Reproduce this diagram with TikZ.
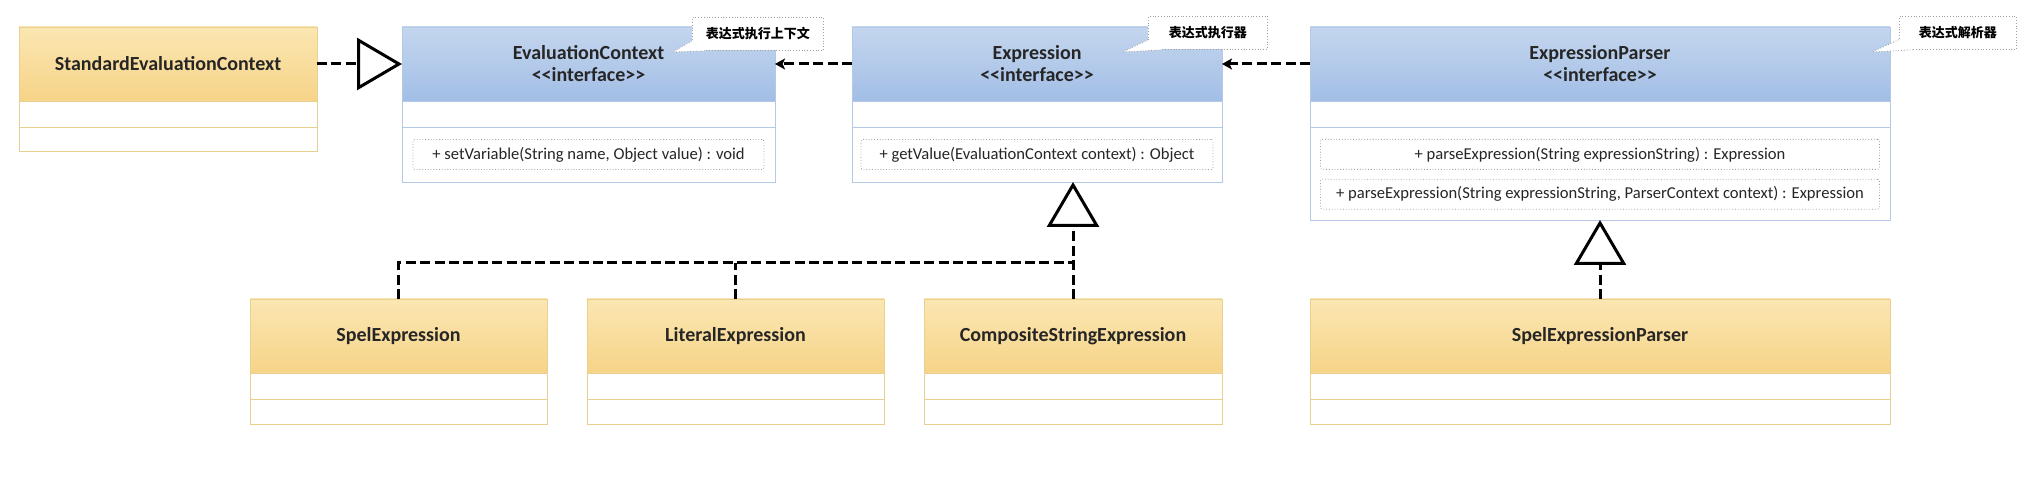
\documentclass[tikz,border=0pt]{standalone}
\usepackage{fontspec}
\setmainfont{Carlito}
\newfontfamily\cjk{Noto Sans CJK SC}
\usetikzlibrary{positioning,arrows.meta}

\definecolor{ifaceline}{HTML}{B4C9E6}
\definecolor{ifacetop}{HTML}{C4D6EE}
\definecolor{ifacebot}{HTML}{A2BEE6}
\definecolor{classline}{HTML}{E8D08E}
\definecolor{classtop}{HTML}{FBE6B2}
\definecolor{classbot}{HTML}{F6D488}

\tikzstyle{ifacehead} = [draw=ifaceline, top color=ifacetop, bottom color=ifacebot,
    rectangle, minimum height=37pt, inner sep=0pt, outer sep=0pt, align=center,
    font=\fontsize{10}{11}\selectfont\bfseries, text=black!85, anchor=north west]
\tikzstyle{classhead} = [draw=classline, top color=classtop, bottom color=classbot,
    rectangle, minimum height=37pt, inner sep=0pt, outer sep=0pt,
    font=\fontsize{10}{11}\selectfont\bfseries, text=black!85, anchor=north west]
\tikzstyle{ifacepart} = [draw=ifaceline, fill=white, rectangle, inner sep=0pt, outer sep=0pt]
\tikzstyle{classpart} = [draw=classline, fill=white, rectangle, inner sep=0pt, outer sep=0pt]
\tikzstyle{methodbox} = [draw=gray!75, densely dotted, rounded corners=1pt, fill=white,
    minimum height=15pt, inner sep=0pt, font=\fontsize{8.3}{9}\selectfont, text=black!85]
\tikzstyle{notebox} = [draw=gray!75, densely dotted, fill=white, minimum height=16.5pt,
    inner sep=0pt, anchor=north west, font=\cjk\fontsize{6.5}{8}\selectfont\bfseries]
\tikzstyle{notetail} = [draw=gray!75, densely dotted]
\tikzstyle{implline} = [black, line width=1.5pt, dash pattern=on 5pt off 2.2pt]
\tikzstyle{realize} = [implline, -{Triangle[open, length=22.5pt, width=26pt, line width=1.5pt]}]
\tikzstyle{usage} = [implline, -{Stealth[length=5pt, width=5.5pt, inset=1.2pt]}]

\begin{document}
\begin{tikzpicture}[x=0.5pt, y=-0.5pt]
    \useasboundingbox (0,0) rectangle (2038,490);

    % interfaces
    \node[ifacehead, minimum width=186.5pt] (ech) at (402,27) {EvaluationContext\\<{}<interface>{}>};
    \node[ifacepart, minimum width=186.5pt, minimum height=13pt, below=0pt of ech] (eca) {};
    \node[ifacepart, minimum width=186.5pt, minimum height=27.5pt, below=0pt of eca] (ecm) {};
    \node[methodbox, minimum width=175.5pt] (ecm1) at (ecm) {+ setVariable(String name, Object value) : void};

    \node[ifacehead, minimum width=185pt] (exh) at (852,27) {Expression\\<{}<interface>{}>};
    \node[ifacepart, minimum width=185pt, minimum height=13pt, below=0pt of exh] (exa) {};
    \node[ifacepart, minimum width=185pt, minimum height=27.5pt, below=0pt of exa] (exm) {};
    \node[methodbox, minimum width=176pt] (exm1) at (exm) {+ getValue(EvaluationContext context) : Object};

    \node[ifacehead, minimum width=290pt] (eph) at (1310,27) {ExpressionParser\\<{}<interface>{}>};
    \node[ifacepart, minimum width=290pt, minimum height=13pt, below=0pt of eph] (epa) {};
    \node[ifacepart, minimum width=290pt, minimum height=46.5pt, below=0pt of epa] (epm) {};
    \node[methodbox, minimum width=279.5pt, below=6pt of epm.north] (epm1) {+ parseExpression(String expressionString) : Expression};
    \node[methodbox, minimum width=279.5pt, below=4.5pt of epm1] (epm2) {+ parseExpression(String expressionString, ParserContext context) : Expression};

    % classes
    \node[classhead, minimum width=149pt] (sech) at (19,27) {StandardEvaluationContext};
    \node[classpart, minimum width=149pt, minimum height=13pt, below=0pt of sech] (seca) {};
    \node[classpart, minimum width=149pt, minimum height=12pt, below=0pt of seca] (secm) {};

    \node[classhead, minimum width=148.5pt] (seh) at (250,299) {SpelExpression};
    \node[classpart, minimum width=148.5pt, minimum height=13pt, below=0pt of seh] (sea) {};
    \node[classpart, minimum width=148.5pt, minimum height=12.5pt, below=0pt of sea] (sem) {};

    \node[classhead, minimum width=148.5pt] (leh) at (587,299) {LiteralExpression};
    \node[classpart, minimum width=148.5pt, minimum height=13pt, below=0pt of leh] (lea) {};
    \node[classpart, minimum width=148.5pt, minimum height=12.5pt, below=0pt of lea] (lem) {};

    \node[classhead, minimum width=149pt] (cseh) at (924,299) {CompositeStringExpression};
    \node[classpart, minimum width=149pt, minimum height=13pt, below=0pt of cseh] (csea) {};
    \node[classpart, minimum width=149pt, minimum height=12.5pt, below=0pt of csea] (csem) {};

    \node[classhead, minimum width=290pt] (seph) at (1310,299) {SpelExpressionParser};
    \node[classpart, minimum width=290pt, minimum height=13pt, below=0pt of seph] (sepa) {};
    \node[classpart, minimum width=290pt, minimum height=12.5pt, below=0pt of sepa] (sepm) {};

    % notes
    \node[notebox, minimum width=65.5pt] (ecnote) at (692,17) {表达式执行上下文};
    \coordinate (ectip) at (673,52);
    \fill[white] ([yshift=5pt]ecnote.south west) -- (ectip) -- ([xshift=7pt]ecnote.south west) -- cycle;
    \draw[notetail] ([yshift=5pt]ecnote.south west) -- (ectip) -- ([xshift=7pt]ecnote.south west);

    \node[notebox, minimum width=59.5pt] (exnote) at (1148,16) {表达式执行器};
    \coordinate (extip) at (1123,52);
    \fill[white] ([yshift=5pt]exnote.south west) -- (extip) -- ([xshift=7pt]exnote.south west) -- cycle;
    \draw[notetail] ([yshift=5pt]exnote.south west) -- (extip) -- ([xshift=7pt]exnote.south west);

    \node[notebox, minimum width=58.5pt] (epnote) at (1899,16) {表达式解析器};
    \coordinate (eptip) at (1872,52);
    \fill[white] ([yshift=5pt]epnote.south west) -- (eptip) -- ([xshift=7pt]epnote.south west) -- cycle;
    \draw[notetail] ([yshift=5pt]epnote.south west) -- (eptip) -- ([xshift=7pt]epnote.south west);

    % connectors
    \draw[realize] (sech.east) -- (ech.west);
    \draw[usage] (exh.west) -- (ech.east);
    \draw[usage] (eph.west) -- (exh.east);

    \coordinate (join) at ([yshift=18pt]cseh.north);
    \draw[implline] (seh.north) |- (join);
    \draw[implline] (leh.north) -- (leh.north |- join);
    \draw[realize] (cseh.north) -- (cseh.north |- exm.south);
    \draw[realize] (seph.north) -- (epm.south);
\end{tikzpicture}
\end{document}
